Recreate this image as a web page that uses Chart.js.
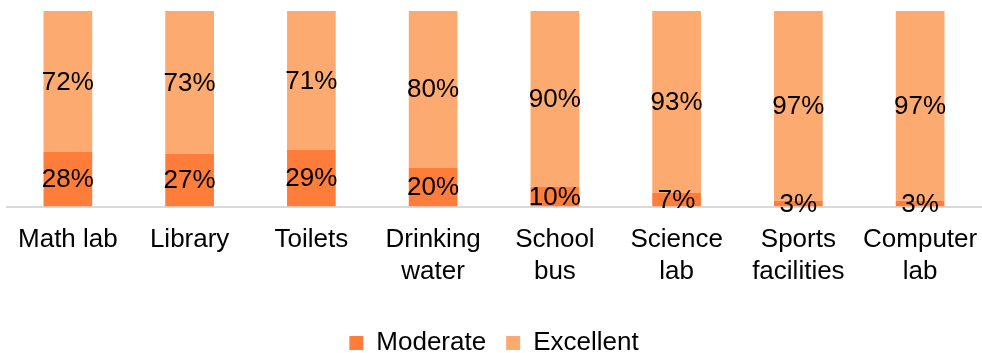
<!DOCTYPE html>
<html>
<head>
<meta charset="utf-8">
<script src="https://cdn.jsdelivr.net/npm/chart.js@4"></script>
<style>
  html, body { margin: 0; padding: 0; background: #fff; }
  #wrap { width: 982px; height: 353px; }
</style>
</head>
<body>
<div id="wrap"><canvas id="facilityChart"></canvas></div>
<script>
const categories = [
  'Math lab', 'Library', 'Toilets', ['Drinking', 'water'], ['School', 'bus'],
  ['Science', 'lab'], ['Sports', 'facilities'], ['Computer', 'lab']
];
const moderate = [28, 27, 29, 20, 10, 7, 3, 3];
const excellent = [72, 73, 71, 80, 90, 93, 97, 97];

const FONT = "'Liberation Sans', Arial, sans-serif";

// writes the percentage in the middle of every segment
const segmentLabels = {
  id: 'segmentLabels',
  afterDatasetsDraw(chart) {
    const ctx = chart.ctx;
    ctx.save();
    ctx.font = '26px ' + FONT;
    ctx.fillStyle = '#000';
    ctx.textAlign = 'center';
    ctx.textBaseline = 'middle';
    chart.data.datasets.forEach((ds, i) => {
      chart.getDatasetMeta(i).data.forEach((bar, j) => {
        const y = (bar.y + bar.base) / 2;
        ctx.fillText(ds.data[j] + '%', bar.x, y + 1);
      });
    });
    ctx.restore();
  }
};

new Chart(document.getElementById('facilityChart'), {
  type: 'bar',
  data: {
    labels: categories,
    datasets: [
      { label: 'Moderate', data: moderate, backgroundColor: '#fe7d3a' },
      { label: 'Excellent', data: excellent, backgroundColor: '#fdaa71' }
    ]
  },
  options: {
    responsive: true,
    maintainAspectRatio: false,
    animation: false,
    layout: { padding: { left: 7, right: 1, top: 11, bottom: -13 } },
    datasets: { bar: { barPercentage: 0.4, categoryPercentage: 1 } },
    scales: {
      x: {
        stacked: true,
        grid: { display: false, tickLength: 15 },
        border: { color: '#d9d9d9', width: 2 },
        ticks: {
          color: '#000',
          font: { family: FONT, size: 26, lineHeight: 1.2 },
          maxRotation: 0,
          autoSkip: false,
          padding: 3
        },
        // leave some room between the category names and the legend
        afterFit(scale) { scale.height += 20; }
      },
      y: { stacked: true, display: false, min: 0, max: 100 }
    },
    plugins: {
      legend: {
        position: 'bottom',
        labels: {
          color: '#000',
          font: { family: FONT, size: 26 },
          boxWidth: 14,
          boxHeight: 14,
          padding: 20
        }
      },
      tooltip: { enabled: false }
    }
  },
  plugins: [segmentLabels]
});
</script>
</body>
</html>
